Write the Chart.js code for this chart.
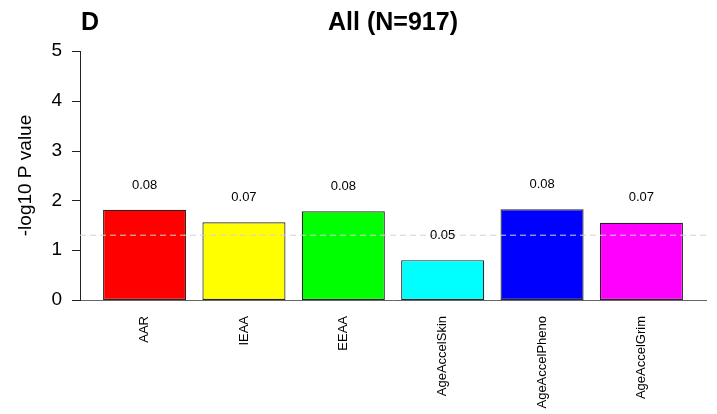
<!DOCTYPE html>
<html>
<head>
<meta charset="utf-8">
<script src="https://cdn.jsdelivr.net/npm/chart.js@4/dist/chart.umd.min.js"></script>
<style>
  html, body { margin: 0; padding: 0; background: #ffffff; }
  #wrap { width: 717px; height: 414px; }
</style>
</head>
<body>
<div id="wrap"><canvas id="c" width="717" height="414"></canvas></div>
<script>
// Epigenetic age acceleration measures
const categories = ['AAR', 'IEAA', 'EEAA', 'AgeAccelSkin', 'AgeAccelPheno', 'AgeAccelGrim'];
// -log10 P value per measure
const negLogP = [1.81, 1.56, 1.78, 0.80, 1.82, 1.55];
// Text printed above each bar
const barLabels = ['0.08', '0.07', '0.08', '0.05', '0.08', '0.07'];
const barColors = ['#ff0000', '#ffff00', '#00ff00', '#00ffff', '#0000ff', '#ff00ff'];
const yTicks = [0, 1, 2, 3, 4, 5];
// Significance threshold: -log10(0.05)
const threshold = -Math.log10(0.05);
const panelTag = 'D';
const panelTitle = 'All (N=917)';
const yTitle = '-log10 P value';

const FONT = '"Liberation Sans", Arial, Helvetica, sans-serif';

const overlay = {
  id: 'overlay',
  afterDatasetsDraw(chart) {
    const { ctx, chartArea, scales } = chart;
    const x = scales.x, y = scales.y;
    ctx.save();
    // threshold line
    const ty = y.getPixelForValue(threshold);
    ctx.strokeStyle = '#d3d3d3';
    ctx.lineWidth = 1;
    ctx.setLineDash([6, 4]);
    ctx.beginPath();
    ctx.moveTo(chartArea.left, ty);
    ctx.lineTo(chartArea.right, ty);
    ctx.stroke();
    ctx.setLineDash([]);
    // value labels above bars
    ctx.fillStyle = '#000';
    ctx.font = '13px ' + FONT;
    ctx.textAlign = 'center';
    ctx.textBaseline = 'middle';
    negLogP.forEach((v, i) => {
      ctx.fillText(barLabels[i], x.getPixelForValue(i + 1), y.getPixelForValue(v + 0.5));
    });
    ctx.restore();
  },
  afterDraw(chart) {
    const { ctx, chartArea, scales } = chart;
    const y = scales.y;
    ctx.save();
    // y axis tick marks
    ctx.strokeStyle = '#222';
    ctx.lineWidth = 1;
    ctx.beginPath();
    yTicks.forEach(v => {
      const py = Math.round(y.getPixelForValue(v)) + 0.5;
      ctx.moveTo(chartArea.left - 8, py);
      ctx.lineTo(chartArea.left, py);
    });
    ctx.stroke();
    ctx.fillStyle = '#000';
    ctx.font = 'bold 25px ' + FONT;
    ctx.textBaseline = 'alphabetic';
    ctx.textAlign = 'left';
    ctx.fillText(panelTag, 81, 30);
    ctx.textAlign = 'center';
    ctx.fillText(panelTitle, (chartArea.left + chartArea.right) / 2, 30);
    // y axis title
    ctx.font = '19px ' + FONT;
    ctx.translate(25.5, (chartArea.top + chartArea.bottom) / 2);
    ctx.rotate(-Math.PI / 2);
    ctx.textAlign = 'center';
    ctx.textBaseline = 'middle';
    ctx.fillText(yTitle, 0, 0);
    ctx.restore();
  }
};

new Chart(document.getElementById('c'), {
  type: 'bar',
  data: {
    datasets: [{
      data: negLogP.map((v, i) => ({ x: i + 1, y: v })),
      backgroundColor: barColors,
      borderColor: '#262626',
      borderWidth: 1.2,
      borderSkipped: false,
      barPercentage: 0.836,
      categoryPercentage: 1.0
    }]
  },
  options: {
    responsive: false,
    animation: false,
    devicePixelRatio: 1,
    layout: { padding: { top: 51, right: 11, left: 0, bottom: 0 } },
    plugins: { legend: { display: false }, tooltip: { enabled: false }, title: { display: false } },
    scales: {
      x: {
        type: 'linear',
        offset: false,
        min: 0.35,
        max: 6.65,
        afterBuildTicks(scale) {
          scale.ticks = categories.map((c, i) => ({ value: i + 1 }));
        },
        afterFit(scale) { scale.height = 114; },
        grid: { display: false, drawTicks: false },
        border: { display: true, color: '#666666', width: 1 },
        ticks: {
          autoSkip: false,
          maxRotation: 90,
          minRotation: 90,
          padding: 16,
          color: '#000',
          font: { family: FONT, size: 13 },
          callback: (v) => categories[v - 1]
        }
      },
      y: {
        min: 0,
        max: 5,
        afterBuildTicks(scale) {
          scale.ticks = yTicks.map(v => ({ value: v }));
        },
        afterFit(scale) { scale.width = 80; },
        grid: { display: false, drawTicks: true, tickLength: 8 },
        border: { display: true, color: '#222', width: 1 },
        ticks: {
          padding: 10,
          color: '#000',
          font: { family: FONT, size: 19 }
        }
      }
    }
  },
  plugins: [overlay]
});
</script>
</body>
</html>
